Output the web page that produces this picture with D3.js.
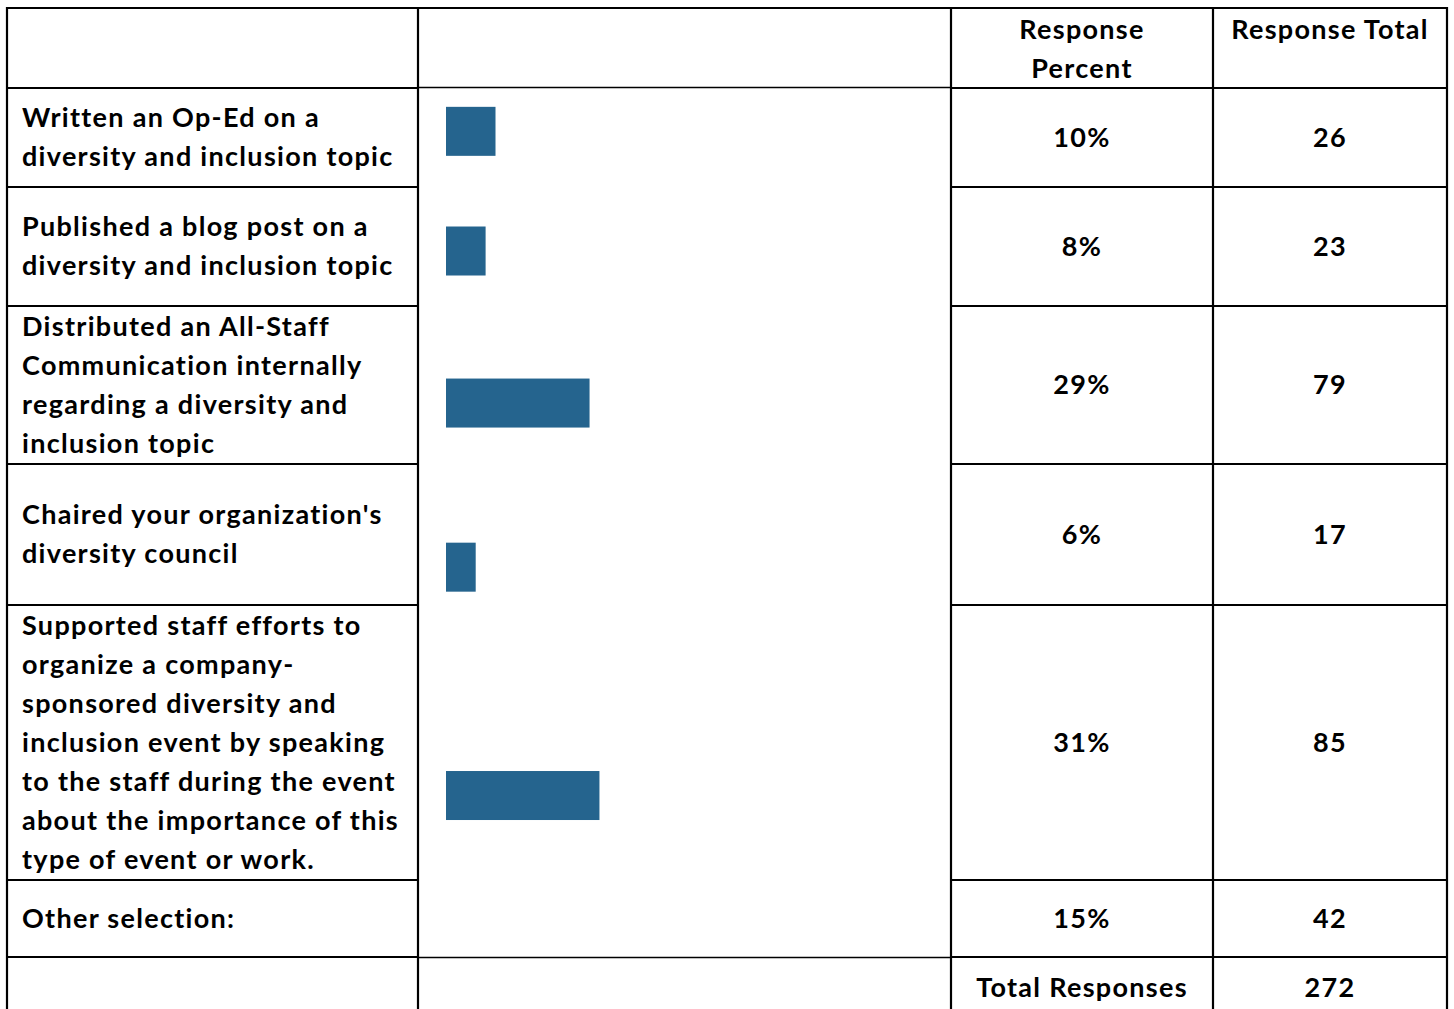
<!DOCTYPE html>
<html>
<head>
<meta charset="utf-8">
<script src="https://cdn.jsdelivr.net/npm/d3@7"></script>
<style>
  body { margin: 0; background: #fff; }
  svg text { font-family: Lato, "Open Sans", sans-serif; font-weight: 700; fill: #000; letter-spacing: 1.3px; }
</style>
</head>
<body>
<svg id="chart"></svg>
<script>
// answer labels (one entry per table row, "\n" = line break as in the source)
const categories = [
  "Written an Op-Ed on a\ndiversity and inclusion topic",
  "Published a blog post on a\ndiversity and inclusion topic",
  "Distributed an All-Staff\nCommunication internally\nregarding a diversity and\ninclusion topic",
  "Chaired your organization's\ndiversity council",
  "Supported staff efforts to\norganize a company-\nsponsored diversity and\ninclusion event by speaking\nto the staff during the event\nabout the importance of this\ntype of event or work.",
  "Other selection:",
];
const percents = [10, 8, 29, 6, 31, 15];
const totals = [26, 23, 79, 17, 85, 42];
// the bar image only covers the first five answers
const barCategories = categories.slice(0, 5);
const headers = ["", "", "Response\nPercent", "Response Total"];
const totalLabel = "Total Responses";
const totalResponses = 272;

const width = 1454;
const height = 1009;
// table grid
const colEdges = [7, 418, 951, 1213, 1447];
const rowEdges = [8, 88, 187, 306, 464, 605, 880, 957, 1060];
const lineH = 39;
const fontSize = 27;
const barColor = "#25648e";

const svg = d3.select("#chart").attr("width", width).attr("height", height);

const colMid = (i) => (colEdges[i] + colEdges[i + 1]) / 2;
const rowMid = (i) => (rowEdges[i] + rowEdges[i + 1]) / 2;

// multi-line text helper, block centred on cy
function multiline(g, str, x, cy, anchor) {
  const lines = str.split("\n");
  const t = g.append("text").attr("text-anchor", anchor).style("font-size", fontSize + "px");
  lines.forEach((l, i) => {
    t.append("tspan")
      .attr("x", x)
      .attr("y", cy + (i - (lines.length - 1) / 2) * lineH)
      .attr("dy", "0.35em")
      .text(l);
  });
  return t;
}

// bars
const x = d3.scaleLinear().domain([0, 100]).range([colEdges[1] + 28, colEdges[1] + 28 + 495]);
// the pasted chart image is a bit taller than the merged cell it sits in
const yImg = d3.scaleLinear()
  .domain([rowEdges[1], rowEdges[7]])
  .range([rowEdges[1] - 11, rowEdges[7] + 74]);
const barH = 49;

svg.append("g")
  .selectAll("rect")
  .data(barCategories)
  .join("rect")
  .attr("x", x(0))
  .attr("y", (d, i) => yImg(rowMid(i + 1)) - barH / 2)
  .attr("width", (d, i) => x(percents[i]) - x(0))
  .attr("height", barH)
  .attr("fill", barColor);

// header
const head = svg.append("g");
headers.forEach((h, i) => {
  if (!h) return;
  const lines = h.split("\n").length;
  multiline(head, h, colMid(i), rowEdges[0] + 22 + (lines - 1) * lineH / 2, "middle");
});

// body rows
const body = svg.append("g");
categories.forEach((c, i) => {
  const cy = rowMid(i + 1);
  multiline(body, c, colEdges[0] + 15, cy, "start");
  multiline(body, percents[i] + "%", colMid(2), cy, "middle");
  multiline(body, String(totals[i]), colMid(3), cy, "middle");
});

// total row
multiline(body, totalLabel, colMid(2), rowEdges[7] + 31, "middle");
multiline(body, String(totalResponses), colMid(3), rowEdges[7] + 31, "middle");

// grid lines
const grid = svg.append("g").attr("stroke", "#000").attr("fill", "none");
const thick = 2.2;
colEdges.forEach((cx) => {
  grid.append("line")
    .attr("x1", cx).attr("x2", cx)
    .attr("y1", rowEdges[0] - 1).attr("y2", height + 5)
    .attr("stroke-width", thick);
});
rowEdges.slice(0, -1).forEach((ry, i) => {
  [0, 2, 3].forEach((c) => {
    grid.append("line")
      .attr("x1", colEdges[c]).attr("x2", colEdges[c + 1])
      .attr("y1", ry).attr("y2", ry)
      .attr("stroke-width", thick);
  });
  if (i === 0) {
    grid.append("line")
      .attr("x1", colEdges[1]).attr("x2", colEdges[2])
      .attr("y1", ry).attr("y2", ry)
      .attr("stroke-width", thick);
  }
});
// thin edges of the bar image cell
[rowEdges[1] - 0.5, rowEdges[7] + 0.5].forEach((ry) => {
  grid.append("line")
    .attr("x1", colEdges[1]).attr("x2", colEdges[2])
    .attr("y1", ry).attr("y2", ry)
    .attr("stroke-width", 1.4);
});
</script>
</body>
</html>
